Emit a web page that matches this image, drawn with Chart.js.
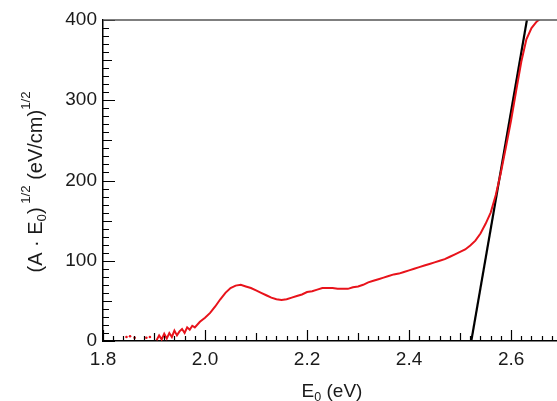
<!DOCTYPE html>
<html>
<head>
<meta charset="utf-8">
<script src="https://cdn.jsdelivr.net/npm/chart.js@4.4.1/dist/chart.umd.min.js"></script>
<style>
  html, body { margin: 0; padding: 0; background: #fff; }
  #wrap { width: 557px; height: 401px; }
</style>
</head>
<body>
<div id="wrap"><canvas id="tauc" width="557" height="401"></canvas></div>
<script>
// photon energy (eV) and (A*E0)^1/2 for the measured curve
const energy = [
  1.905, 1.910, 1.915, 1.920, 1.925, 1.930, 1.935, 1.940, 1.945, 1.950,
  1.955, 1.960, 1.965, 1.970, 1.975, 1.980, 1.990, 2.000, 2.010, 2.020,
  2.030, 2.040, 2.050, 2.060, 2.070, 2.080, 2.090, 2.100, 2.110, 2.120,
  2.130, 2.140, 2.150, 2.160, 2.170, 2.180, 2.190, 2.200, 2.210, 2.220,
  2.230, 2.240, 2.250, 2.260, 2.270, 2.280, 2.290, 2.300, 2.310, 2.320,
  2.330, 2.340, 2.350, 2.360, 2.370, 2.380, 2.390, 2.400, 2.410, 2.420,
  2.430, 2.440, 2.450, 2.460, 2.470, 2.480, 2.490, 2.500, 2.510, 2.520,
  2.530, 2.540, 2.550, 2.560, 2.570, 2.580, 2.590, 2.600, 2.610, 2.620,
  2.630, 2.640, 2.650, 2.660, 2.680
];
const taucValue = [
  1, 7, 2, 9, 3, 10, 5, 13, 7, 12,
  15, 10, 17, 14, 19, 17, 24, 29, 35, 43,
  52, 60, 66, 69, 70, 68, 66, 63, 60, 57,
  54, 52, 51, 52, 54, 56, 58, 61, 62, 64,
  66, 66, 66, 65, 65, 65, 67, 68, 70, 73,
  75, 77, 79, 81, 83, 84, 86, 88, 90, 92,
  94, 96, 98, 100, 102, 105, 108, 111, 114, 119,
  125, 134, 146, 160, 182, 210, 242, 275, 312, 348,
  376, 390, 398, 403, 412
];

// isolated low-energy points below the noise floor
const strayEnergy = [1.846, 1.853, 1.862, 1.885, 1.892];
const strayValue = [5, 6, 4, 4, 5];

// linear fit to the absorption edge
const fitEnergy = [2.522, 2.631];
const fitValue = [0, 400];

const xTicks = [1.8, 2.0, 2.2, 2.4, 2.6];
const yTicks = [0, 100, 200, 300, 400];

const FONT = 'Liberation Sans, Arial, sans-serif';
const TEXT = '#1a1a1a';

function pairs(px, py) {
  return px.map((x, i) => ({ x: x, y: py[i] }));
}

// draws text runs with sub/superscripts starting at (x, y) along the baseline
function drawRuns(ctx, runs, x, y, size) {
  let cx = x;
  runs.forEach(r => {
    const fs = r.mode ? size * 0.66 : size;
    ctx.font = fs + 'px ' + FONT;
    let dy = 0;
    if (r.mode === 'sub') dy = size * 0.22;
    if (r.mode === 'sup') dy = -size * 0.62;
    ctx.fillText(r.t, cx, y + dy);
    cx += ctx.measureText(r.t).width;
  });
}

function runsWidth(ctx, runs, size) {
  let w = 0;
  runs.forEach(r => {
    ctx.font = (r.mode ? size * 0.66 : size) + 'px ' + FONT;
    w += ctx.measureText(r.t).width;
  });
  return w;
}

// position along a scale, as a fraction of its range
function scalePixel(scale, v) {
  return scale.getPixelForDecimal((v - scale.min) / (scale.max - scale.min));
}

// inward tick marks: major, half and minor
const tickMarks = {
  id: 'tickMarks',
  afterDatasetsDraw(chart) {
    const ctx = chart.ctx;
    const a = chart.chartArea;
    const sx = chart.scales.x;
    const sy = chart.scales.y;
    ctx.save();
    ctx.strokeStyle = '#000';
    ctx.lineWidth = 1.2;
    ctx.setLineDash([]);
    ctx.globalAlpha = 1;
    ctx.globalCompositeOperation = 'source-over';
    ctx.beginPath();
    for (let i = 0; i < 45; i++) {
      const px = Math.round(scalePixel(sx, 1.8 + i * 0.02)) + 0.5;
      const len = i % 10 === 0 ? 11 : (i % 5 === 0 ? 8 : 5);
      ctx.moveTo(px, a.bottom);
      ctx.lineTo(px, a.bottom - len);
    }
    for (let j = 0; j <= 40; j++) {
      const py = Math.round(scalePixel(sy, j * 10)) + 0.5;
      const len = j % 10 === 0 ? 12 : (j % 5 === 0 ? 9 : 6);
      ctx.moveTo(a.left, py);
      ctx.lineTo(a.left + len, py);
    }
    ctx.stroke();
    ctx.restore();
  }
};

// top frame line and axis titles with sub- and superscripts
const frameTitles = {
  id: 'frameTitles',
  afterDraw(chart) {
    const ctx = chart.ctx;
    const a = chart.chartArea;
    ctx.save();
    ctx.fillStyle = '#555';
    ctx.fillRect(a.left, a.top - 0.75, a.right - a.left, 1.5);

    ctx.fillStyle = TEXT;
    ctx.textBaseline = 'alphabetic';
    ctx.textAlign = 'left';
    const xRuns = [{ t: 'E' }, { t: '0', mode: 'sub' }, { t: ' (eV)' }];
    const xw = runsWidth(ctx, xRuns, 19);
    drawRuns(ctx, xRuns, 332 - xw / 2, 397, 19);

    const yRuns = [
      { t: '(A \u00b7 E' }, { t: '0', mode: 'sub' }, { t: ')' },
      { t: ' 1/2', mode: 'sup' }, { t: ' (eV/cm)' }, { t: '1/2', mode: 'sup' }
    ];
    const yw = runsWidth(ctx, yRuns, 20);
    ctx.translate(42, 182);
    ctx.rotate(-Math.PI / 2);
    drawRuns(ctx, yRuns, -yw / 2, 0, 20);
    ctx.restore();
  }
};

new Chart(document.getElementById('tauc'), {
  type: 'scatter',
  data: {
    datasets: [
      {
        data: pairs(energy, taucValue),
        showLine: true,
        borderColor: '#e8131b',
        borderWidth: 2,
        pointRadius: 0,
        tension: 0
      },
      {
        data: pairs(strayEnergy, strayValue),
        showLine: false,
        backgroundColor: '#e8131b',
        borderColor: '#e8131b',
        borderWidth: 0,
        pointRadius: 1.3
      },
      {
        data: pairs(fitEnergy, fitValue),
        showLine: true,
        borderColor: '#000',
        borderWidth: 2.2,
        pointRadius: 0
      }
    ]
  },
  options: {
    responsive: false,
    animation: false,
    layout: { autoPadding: false, padding: { top: 20, right: 0, left: 0, bottom: 0 } },
    plugins: { legend: { display: false }, tooltip: { enabled: false } },
    scales: {
      x: {
        type: 'linear',
        min: 1.8,
        max: 2.69,
        afterBuildTicks: s => { s.ticks = xTicks.map(v => ({ value: v })); },
        afterFit: s => { s.height = 60; },
        grid: { display: false, drawTicks: false },
        border: { display: true, color: '#000', width: 1.5 },
        ticks: {
          padding: 7,
          color: TEXT,
          font: { family: FONT, size: 19 },
          maxRotation: 0,
          callback: v => v.toFixed(1)
        }
      },
      y: {
        min: 0,
        max: 400,
        afterBuildTicks: s => { s.ticks = yTicks.map(v => ({ value: v })); },
        afterFit: s => { s.width = 103; },
        grid: { display: false, drawTicks: false },
        border: { display: true, color: '#000', width: 1.5 },
        ticks: {
          padding: 6,
          color: TEXT,
          font: { family: FONT, size: 19 },
          callback: v => String(v)
        }
      }
    }
  },
  plugins: [tickMarks, frameTitles]
});
</script>
</body>
</html>
